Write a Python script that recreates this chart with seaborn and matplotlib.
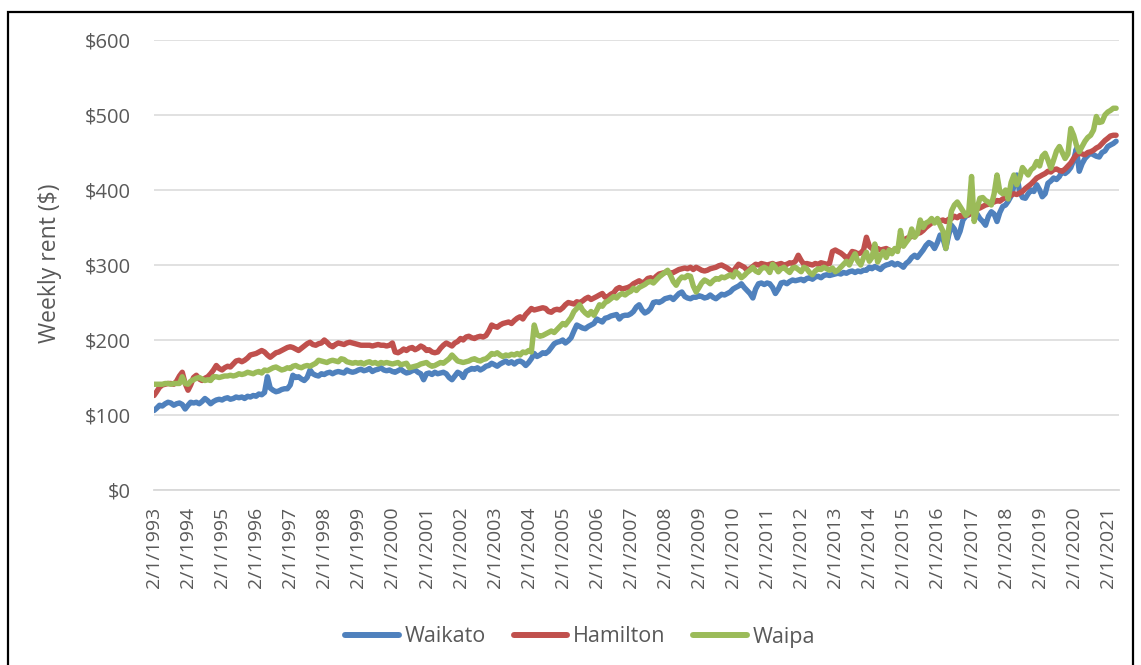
import matplotlib
matplotlib.use("Agg")
import matplotlib.pyplot as plt
import pandas as pd
import seaborn as sns
from matplotlib.ticker import FuncFormatter
from matplotlib.lines import Line2D

# ---------------- data (monthly, Feb 1993 - May 2021) ----------------
waikato = [
    106, 109, 113, 112, 115, 117, 116, 113, 115, 116, 114,
    108, 113, 117, 116, 117, 115, 118, 122, 119, 115, 118, 120,
    121, 120, 122, 123, 121, 122, 124, 123, 124, 122, 125, 124,
    126, 125, 128, 127, 130, 151, 136, 133, 131, 132, 134, 135,
    135, 140, 153, 150, 151, 148, 146, 150, 160, 155, 153, 152,
    155, 154, 156, 157, 155, 157, 158, 157, 156, 160, 158, 157,
    158, 160, 161, 159, 160, 162, 158, 160, 161, 163, 160, 159,
    160, 158, 157, 159, 161, 158, 156, 157, 159, 160, 157, 155,
    147, 155, 156, 154, 157, 155, 156, 157, 155, 150, 147, 152,
    157, 155, 150, 158, 160, 162, 161, 163, 160, 162, 165, 166,
    169, 167, 165, 168, 170, 172, 169, 171, 168, 171, 172, 170,
    166, 170, 175, 182, 178, 180, 183, 182, 185, 190, 195, 197,
    198, 200, 196, 199, 203, 212, 220, 218, 216, 215, 218, 220,
    222, 228, 226, 224, 229, 230, 232, 233, 234, 228, 232, 233,
    233, 235, 238, 244, 247, 240, 236, 238, 242, 250, 251, 250,
    252, 255, 256, 257, 254, 258, 262, 264, 258, 256, 255, 257,
    257, 259, 258, 256, 257, 260, 257, 255, 258, 261, 260, 262,
    264, 268, 270, 272, 275, 270, 266, 262, 256, 268, 275, 276,
    274, 276, 275, 270, 262, 268, 276, 277, 275, 278, 280, 279,
    280, 281, 279, 282, 283, 281, 284, 285, 283, 286, 287, 286,
    287, 288, 289, 288, 290, 289, 291, 292, 290, 292, 291, 293,
    293, 297, 295, 298, 296, 294, 298, 300, 301, 303, 300, 302,
    300, 297, 302, 305, 310, 313, 310, 315, 320, 326, 330, 328,
    322, 330, 340, 335, 322, 340, 353, 348, 336, 345, 360, 365,
    367, 375, 372, 368, 362, 358, 353, 365, 371, 368, 358, 370,
    378, 380, 385, 392, 405, 420, 398, 390, 389, 395, 400, 398,
    407, 400, 391, 395, 409, 412, 416, 414, 418, 425, 422, 425,
    430, 440, 455, 425, 435, 442, 446, 449, 447, 445, 444, 450,
    452, 458, 460, 462, 465,
]

hamilton = [
    126, 131, 137, 140, 141, 142, 142, 141, 145, 152, 157,
    142, 133, 140, 150, 153, 148, 146, 149, 151, 155, 160, 166,
    162, 160, 163, 165, 164, 168, 172, 173, 171, 173, 176, 180,
    181, 182, 184, 186, 184, 180, 177, 180, 183, 184, 186, 188,
    190, 191, 190, 188, 186, 189, 192, 195, 197, 194, 193, 195,
    196, 200, 197, 193, 191, 194, 196, 195, 194, 196, 197, 196,
    195, 194, 193, 193, 193, 193, 192, 193, 194, 193, 193, 192,
    193, 196, 184, 183, 185, 188, 186, 189, 190, 187, 189, 192,
    190, 186, 187, 184, 183, 184, 189, 193, 196, 194, 192, 196,
    198, 202, 200, 204, 205, 203, 202, 204, 205, 204, 206, 212,
    220, 218, 217, 220, 222, 223, 224, 222, 226, 229, 231, 228,
    234, 238, 242, 240, 241, 242, 243, 242, 238, 237, 240, 241,
    240, 243, 247, 250, 249, 248, 251, 250, 252, 255, 257, 254,
    256, 258, 260, 262, 257, 258, 261, 263, 268, 270, 268, 269,
    270, 272, 275, 277, 279, 276, 278, 282, 283, 281, 285, 288,
    289, 290, 291, 289, 290, 292, 294, 295, 296, 295, 297, 294,
    297, 295, 293, 292, 293, 295, 296, 297, 299, 300, 298, 296,
    293, 291, 296, 301, 299, 297, 293, 295, 298, 301, 300, 302,
    301, 300, 301, 302, 300, 301, 302, 300, 301, 303, 302, 305,
    313, 306, 301, 302, 301, 300, 302, 301, 303, 302, 301, 302,
    318, 320, 318, 316, 313, 309, 312, 318, 317, 315, 316, 320,
    337, 325, 322, 321, 322, 320, 321, 322, 320, 318, 320, 322,
    328, 333, 335, 337, 338, 340, 342, 343, 346, 350, 353, 356,
    358, 360, 359, 360, 358, 361, 362, 365, 363, 366, 365, 367,
    367, 370, 372, 375, 376, 378, 380, 381, 383, 384, 386, 385,
    388, 390, 391, 393, 395, 394, 396, 398, 402, 405, 408, 412,
    416, 418, 420, 422, 425, 424, 427, 428, 426, 425, 428, 432,
    436, 442, 447, 449, 448, 447, 450, 451, 453, 456, 458, 462,
    466, 469, 472, 473, 473,
]

waipa = [
    141, 141, 141, 141, 142, 142, 141, 142, 142, 142, 151,
    142, 141, 145, 147, 149, 150, 148, 146, 147, 146, 151, 151,
    150, 151, 152, 152, 153, 152, 153, 155, 154, 155, 157, 156,
    155, 157, 158, 156, 160, 159, 161, 163, 164, 162, 160, 161,
    163, 162, 165, 166, 164, 163, 165, 166, 165, 167, 169, 173,
    172, 171, 170, 172, 173, 172, 171, 175, 174, 171, 170, 169,
    170, 169, 170, 168, 170, 171, 169, 170, 168, 170, 169, 170,
    169, 168, 169, 170, 167, 168, 169, 163, 164, 165, 166, 168,
    169, 170, 167, 165, 166, 168, 170, 169, 172, 175, 180, 176,
    172, 171, 170, 171, 172, 174, 175, 173, 172, 174, 175, 178,
    182, 181, 183, 180, 178, 180, 179, 181, 180, 182, 180, 184,
    183, 186, 184, 220, 207, 205, 206, 208, 210, 212, 210, 214,
    218, 222, 220, 225, 230, 238, 242, 247, 240, 236, 233, 238,
    233, 240, 247, 245, 250, 252, 255, 258, 256, 260, 262, 260,
    263, 265, 269, 266, 270, 272, 274, 277, 278, 276, 280, 284,
    287, 290, 293, 286, 278, 273, 280, 284, 283, 286, 285, 272,
    264, 270, 276, 280, 278, 275, 279, 282, 281, 284, 283, 285,
    287, 284, 291, 288, 283, 286, 290, 293, 297, 292, 290, 295,
    297, 295, 290, 301, 297, 291, 295, 297, 293, 290, 296, 297,
    294, 291, 297, 295, 290, 287, 292, 295, 294, 297, 295, 293,
    296, 291, 293, 297, 301, 305, 300, 308, 315, 305, 300, 310,
    317, 305, 310, 328, 304, 312, 318, 310, 320, 315, 322, 318,
    346, 325, 330, 335, 348, 337, 342, 360, 350, 356, 358, 362,
    356, 362, 353, 345, 322, 348, 372, 380, 384, 378, 372, 366,
    370, 418, 358, 375, 389, 390, 386, 384, 380, 395, 420, 398,
    395, 400, 388, 410, 420, 407, 415, 430, 425, 420, 427, 430,
    438, 432, 445, 449, 440, 429, 440, 452, 458, 450, 442, 448,
    482, 473, 460, 451, 458, 465, 470, 473, 480, 498, 490, 491,
    500, 504, 506, 509, 509,
]

series_names = ["Waikato", "Hamilton", "Waipa"]
series_colors = ["#4F81BD", "#C0504D", "#9BBB59"]
tick_years = list(range(1993, 2022))
tick_labels = [f"2/1/{y}" for y in tick_years]
y_ticks = [0, 100, 200, 300, 400, 500, 600]
y_label = "Weekly rent ($)"

# ---------------- build frame ----------------
dates = pd.date_range("1993-02-01", periods=len(waikato), freq="MS")
df = pd.concat([
    pd.DataFrame({"date": dates, "rent": vals, "region": name})
    for name, vals in zip(series_names, [waikato, hamilton, waipa])
], ignore_index=True)

# ---------------- style ----------------
sns.set_theme(style="white")
plt.rcParams["font.family"] = ["Open Sans", "DejaVu Sans"]
TXT = "#595959"
GRID = "#D9D9D9"

fig = plt.figure(figsize=(11.41, 6.65), dpi=100)
ax = fig.add_axes([154 / 1141, 1 - 490 / 665, (1119 - 154) / 1141, 450 / 665])

sns.lineplot(data=df, x="date", y="rent", hue="region",
             hue_order=series_names, palette=series_colors,
             linewidth=3.9, ax=ax, legend=False)

ax.set_ylim(0, 600)
ax.set_xlim(pd.Timestamp("1993-02-01"), pd.Timestamp("2021-06-01"))
ax.set_yticks(y_ticks)
ax.yaxis.set_major_formatter(FuncFormatter(lambda v, p: f"${int(v)}"))
ax.grid(axis="y", color=GRID, linewidth=1.1)
ax.grid(axis="x", visible=False)
ax.set_axisbelow(True)

ax.set_xticks([pd.Timestamp(f"{y}-02-01") for y in tick_years])
ax.set_xticklabels(tick_labels, rotation=90, va="top", ha="center")

for s in ["left", "right", "top"]:
    ax.spines[s].set_visible(False)
ax.spines["bottom"].set_color(GRID)
ax.spines["bottom"].set_linewidth(1.3)

ax.tick_params(axis="x", which="major", length=6, width=1.2, color=GRID,
               direction="out", pad=6, labelsize=14, labelcolor=TXT)
ax.tick_params(axis="y", length=0, pad=17, labelsize=14.5, labelcolor=TXT)

ax.set_xlabel("")
ax.set_ylabel(y_label, fontsize=16.5, color=TXT)
ax.yaxis.set_label_coords(-0.0953, 0.503)

handles = [Line2D([0], [0], color=c, linewidth=4.3, solid_capstyle="round")
           for c in series_colors]
fig.legend(handles, series_names, loc="center",
           bbox_to_anchor=(580 / 1141, 1 - 637 / 665), ncol=3, frameon=False,
           fontsize=15.5, labelcolor=TXT, handlelength=2.5, handletextpad=0.25,
           columnspacing=1.3)

# outer black frame
fig.add_artist(plt.Rectangle((8 / 1141, -0.05), (1133 - 8) / 1141, 1.05 - 12 / 665,
                             transform=fig.transFigure, fill=False,
                             edgecolor="black", linewidth=1.6))

fig.savefig("out.png", dpi=100)
